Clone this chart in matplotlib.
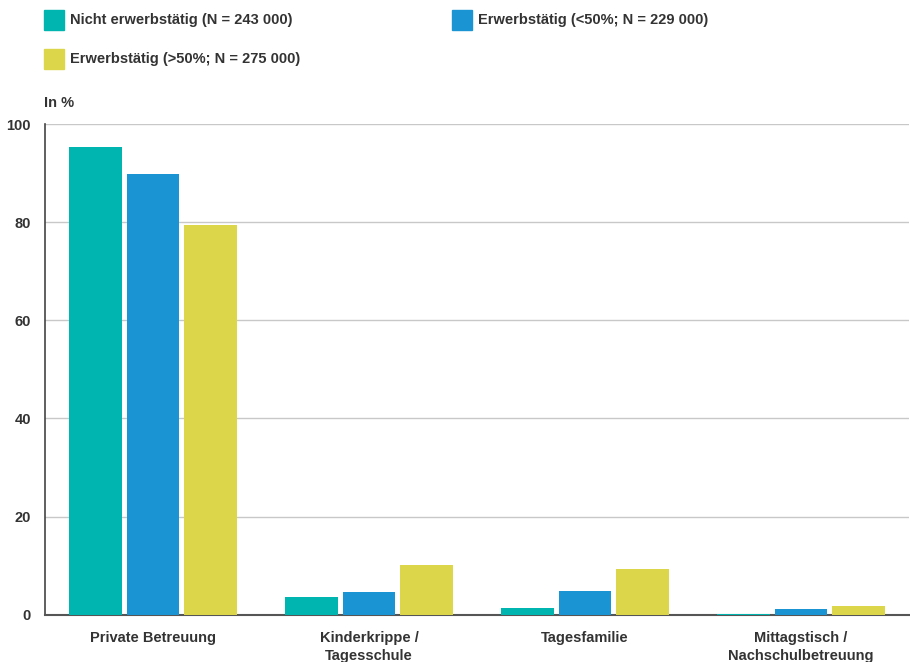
import numpy as np
import matplotlib as mpl
mpl.use('Agg')
import matplotlib.pyplot as plt
from matplotlib.patches import Rectangle

categories = ['Private Betreuung', 'Kinderkrippe /\nTagesschule', 'Tagesfamilie',
              'Mittagstisch /\nNachschulbetreuung']
series_names = ['Nicht erwerbstätig (N = 243 000)',
                'Erwerbstätig (<50%; N = 229 000)',
                'Erwerbstätig (>50%; N = 275 000)']
nicht_erw = [95.4, 3.6, 1.4, 0.1]
erw_unter50 = [89.9, 4.6, 4.8, 1.1]
erw_ueber50 = [79.5, 10.1, 9.3, 1.8]
yticks = [0, 20, 40, 60, 80, 100]

colors = ['#00b5b0', '#1a94d2', '#dcd64a']
txt = '#333333'
plt.rcParams['font.family'] = ['Liberation Sans', 'DejaVu Sans']
plt.rcParams['font.weight'] = 'bold'
fs = 10.5

fig = plt.figure(figsize=(9.1, 6.62), dpi=100)
ax = fig.add_axes([45/910, 1-614.7/662, 864/910, (614.7-124)/662])

x = np.arange(len(categories))
w = 0.245
off = 0.266
for i, (vals, c) in enumerate(zip([nicht_erw, erw_unter50, erw_ueber50], colors)):
    ax.bar(x + (i-1)*off, vals, width=w, color=c, zorder=3)

ax.set_xlim(-0.5, 3.5)
ax.set_ylim(0, 100)
ax.set_yticks(yticks)
ax.set_yticklabels([str(t) for t in yticks], fontsize=fs, color=txt, fontweight='bold')
ax.set_xticks(x)
ax.set_xticklabels(categories, fontsize=fs, color=txt, fontweight='bold', linespacing=1.3)
ax.tick_params(axis='both', length=0)
ax.tick_params(axis='x', pad=12)
ax.tick_params(axis='y', pad=10)
ax.grid(axis='y', color='#c8c8c8', lw=1, zorder=0)
for s in ['top', 'right']:
    ax.spines[s].set_visible(False)
ax.spines['left'].set_color('#444444')
ax.spines['bottom'].set_color('#555555')
ax.spines['left'].set_linewidth(1.2)
ax.spines['bottom'].set_linewidth(1.5)

# legend
leg_pos = [(44, 20), (452, 20), (44, 59)]
for (lx, ly), name, c in zip(leg_pos, series_names, colors):
    fig.patches.append(Rectangle((lx/910, 1-(ly+10)/662), 20/910, 20/662,
                                 transform=fig.transFigure, color=c))
    fig.text((lx+26)/910, 1-ly/662, name, fontsize=fs, color=txt,
             fontweight='bold', va='center', ha='left')

fig.text(44/910, 1-103/662, 'In %', fontsize=fs, color=txt, fontweight='bold',
         va='center', ha='left')

fig.savefig('out.png', dpi=100, facecolor='w')
